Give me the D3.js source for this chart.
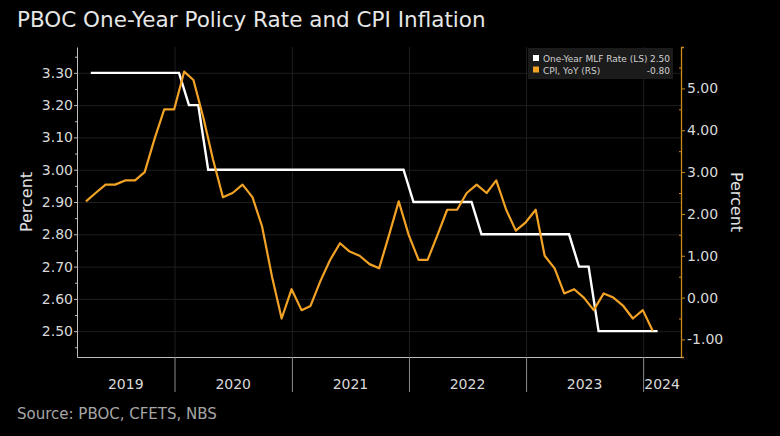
<!DOCTYPE html>
<html>
<head>
<meta charset="utf-8">
<script src="https://cdn.jsdelivr.net/npm/d3@7"></script>
<style>
body { margin: 0; background: #000; }
svg { display: block; }
</style>
</head>
<body>
<svg class="chart" width="780" height="436"></svg>
<script>

// monthly CPI, Mar 2019 .. Jan 2024 (month end)
var cpiStart = [2019, 2];
var cpiValues = [
	2.3, 2.5, 2.7, 2.7, 2.8, 2.8, 3.0, 3.8, 4.5, 4.5,
	5.4, 5.2, 4.3, 3.3, 2.4, 2.5, 2.7, 2.4, 1.7, 0.5, -0.5, 0.2,
	-0.3, -0.2, 0.4, 0.9, 1.3, 1.1, 1.0, 0.8, 0.7, 1.5, 2.3, 1.5,
	0.9, 0.9, 1.5, 2.1, 2.1, 2.5, 2.7, 2.5, 2.8, 2.1, 1.6, 1.8,
	2.1, 1.0, 0.7, 0.1, 0.2, 0.0, -0.3, 0.1, 0.0, -0.2, -0.5, -0.3,
	-0.8
];

// one-year MLF rate, Apr 2019 .. Feb 2024 (mid month)
var mlfStart = [2019, 3];
var mlfValues = [
	3.30, 3.30, 3.30, 3.30, 3.30, 3.30, 3.30, 3.30, 3.30,
	3.30, 3.20, 3.20, 3.00, 3.00, 3.00, 3.00, 3.00, 3.00, 3.00, 3.00, 3.00,
	3.00, 3.00, 3.00, 3.00, 3.00, 3.00, 3.00, 3.00, 3.00, 3.00, 3.00, 3.00,
	2.90, 2.90, 2.90, 2.90, 2.90, 2.90, 2.90, 2.80, 2.80, 2.80, 2.80, 2.80,
	2.80, 2.80, 2.80, 2.80, 2.80, 2.70, 2.70, 2.50, 2.50, 2.50, 2.50, 2.50,
	2.50, 2.50
];

var leftTicks = [2.5, 2.6, 2.7, 2.8, 2.9, 3.0, 3.1, 3.2, 3.3];
var rightTicks = [-1, 0, 1, 2, 3, 4, 5];
var years = [2019, 2020, 2021, 2022, 2023, 2024];

var titleText = "PBOC One-Year Policy Rate and CPI Inflation";
var sourceText = "Source: PBOC, CFETS, NBS";
var legendNames = ["One-Year MLF Rate (LS)", "CPI, YoY (RS)"];

var font = "DejaVu Sans";
var white = "#ffffff";
var orange = "#f2a325";

var pLeft = 77, pRight = 681, pTop = 47, pBottom = 357;

var fmt = d3.formatLocale({decimal: ".", thousands: ",", grouping: [3], currency: ["", ""], minus: "-"}).format(".2f");

var cpi = cpiValues.map(function(v, i){
	return {date: new Date(cpiStart[0], cpiStart[1] + i + 1, 0), value: v};
});
var mlf = mlfValues.map(function(v, i){
	return {date: new Date(mlfStart[0], mlfStart[1] + i, 15), value: v};
});

var x = d3.scaleTime()
	.domain([new Date(2019, 2, 3), new Date(2024, 3, 28)])
	.range([pLeft, pRight]);
var yL = d3.scaleLinear().domain([2.42, 3.38]).range([pBottom, pTop]);
var yR = d3.scaleLinear().domain([-1.42, 5.99]).range([pBottom, pTop]);

var svg = d3.select(".chart");

// title + source
svg.append("text")
	.attr("x", 17).attr("y", 27)
	.style("font-family", font).style("font-size", "21.5px")
	.style("fill", "#e6e6e6")
	.text(titleText);
svg.append("text")
	.attr("x", 17).attr("y", 419)
	.style("font-family", font).style("font-size", "15px")
	.style("fill", "#a6a6a6")
	.text(sourceText);

// gridlines
svg.append("g")
	.attr("transform", "translate(" + pLeft + ",0)")
	.call(d3.axisLeft(yL).tickValues(leftTicks).tickSize(-(pRight - pLeft)).tickFormat(""))
	.call(function(g){
		g.select(".domain").remove();
		g.selectAll("line").style("stroke", "#1e1e1e");
	});
var yearStarts = years.slice(1).map(function(y){ return new Date(y, 0, 1); });
svg.append("g")
	.attr("transform", "translate(0," + pBottom + ")")
	.call(d3.axisBottom(x).tickValues(yearStarts).tickSize(-(pBottom - pTop)).tickFormat(""))
	.call(function(g){
		g.select(".domain").remove();
		g.selectAll("line").style("stroke", "#1e1e1e");
	});

// left axis
svg.append("g")
	.attr("transform", "translate(" + pLeft + ",0)")
	.call(d3.axisLeft(yL).tickValues(d3.range(2.45, 3.4, 0.1)).tickSize(2).tickSizeOuter(0).tickFormat(""))
	.call(function(g){
		g.selectAll("line").style("stroke", "#bdbdbd");
		g.select(".domain").style("stroke", "#bdbdbd");
	});
svg.append("g")
	.attr("transform", "translate(" + pLeft + ",0)")
	.call(d3.axisLeft(yL).tickValues(leftTicks).tickSize(3).tickPadding(1).tickSizeOuter(0).tickFormat(fmt))
	.call(function(g){
		g.select(".domain").remove();
		g.selectAll("line").style("stroke", "#bdbdbd");
		g.selectAll("text")
			.style("font-family", font).style("font-size", "14px")
			.style("fill", "#d9d9d9");
	});

// right axis
svg.append("g")
	.attr("transform", "translate(" + pRight + ",0)")
	.call(d3.axisLeft(yR).tickValues(d3.range(-0.5, 5.6, 1)).tickSize(2).tickSizeOuter(0).tickFormat(""))
	.call(function(g){
		g.select(".domain").remove();
		g.selectAll("line").style("stroke", "#c98a1c");
	});
svg.append("g")
	.attr("transform", "translate(" + pRight + ",0)")
	.call(d3.axisRight(yR).tickValues(rightTicks).tickSize(4).tickPadding(2).tickSizeOuter(3).tickFormat(fmt))
	.call(function(g){
		g.select(".domain").style("stroke", "#c98a1c").style("stroke-width", 1.3);
		g.selectAll("line").style("stroke", "#c98a1c");
		g.selectAll("text")
			.style("font-family", font).style("font-size", "14px")
			.style("fill", "#d9d9d9");
	});

// bottom axis with year separators
svg.append("g")
	.attr("transform", "translate(0," + pBottom + ")")
	.call(d3.axisBottom(x).tickValues(yearStarts).tickSize(35).tickSizeOuter(0).tickFormat(""))
	.call(function(g){
		g.select(".domain").style("stroke", "#bdbdbd");
		g.selectAll("line").style("stroke", "#8c8c8c");
	});
svg.append("g")
	.selectAll("text")
	.data(years)
	.enter()
	.append("text")
	.attr("x", function(d){
		var a = Math.max(x(new Date(d, 0, 1)), pLeft);
		var b = Math.min(x(new Date(d + 1, 0, 1)), pRight);
		return (a + b) / 2;
	})
	.attr("y", 389)
	.attr("text-anchor", "middle")
	.style("font-family", font).style("font-size", "14px")
	.style("fill", "#d9d9d9")
	.text(function(d){ return d; });

// axis titles
svg.append("text")
	.attr("transform", "translate(32,202) rotate(-90)")
	.attr("text-anchor", "middle")
	.style("font-family", font).style("font-size", "16px")
	.style("fill", "#e0e0e0")
	.text("Percent");
svg.append("text")
	.attr("transform", "translate(731,202) rotate(90)")
	.attr("text-anchor", "middle")
	.style("font-family", font).style("font-size", "16px")
	.style("fill", "#e0e0e0")
	.text("Percent");

// lines
svg.append("path")
	.datum(mlf)
	.attr("d", d3.line()
		.x(function(d){ return x(d.date); })
		.y(function(d){ return yL(d.value); }))
	.style("fill", "none")
	.style("stroke", white)
	.style("stroke-width", 2.4);
svg.append("path")
	.datum(cpi)
	.attr("d", d3.line()
		.x(function(d){ return x(d.date); })
		.y(function(d){ return yR(d.value); }))
	.style("fill", "none")
	.style("stroke", orange)
	.style("stroke-width", 2.2)
	.style("stroke-linejoin", "round");

// legend
var legend = svg.append("g");
legend.append("rect")
	.attr("x", 528).attr("y", 48)
	.attr("width", 145).attr("height", 31)
	.style("fill", "#1b1b1b");
var lastVals = [mlfValues[mlfValues.length - 1], cpiValues[cpiValues.length - 1]];
legend.selectAll(".sw")
	.data([white, orange])
	.enter()
	.append("rect")
	.attr("x", 533)
	.attr("y", function(d, i){ return 55 + i * 11.5; })
	.attr("width", 6).attr("height", 6)
	.style("fill", function(d){ return d; });
legend.selectAll(".nm")
	.data(legendNames)
	.enter()
	.append("text")
	.attr("x", 543)
	.attr("y", function(d, i){ return 62 + i * 11.5; })
	.style("font-family", font).style("font-size", "9px")
	.style("fill", "#d0d0d0")
	.text(function(d){ return d; });
legend.selectAll(".vl")
	.data(lastVals)
	.enter()
	.append("text")
	.attr("x", 670)
	.attr("y", function(d, i){ return 62 + i * 11.5; })
	.attr("text-anchor", "end")
	.style("font-family", font).style("font-size", "9px")
	.style("fill", "#d0d0d0")
	.text(function(d){ return fmt(d); });

</script>
</body>
</html>
